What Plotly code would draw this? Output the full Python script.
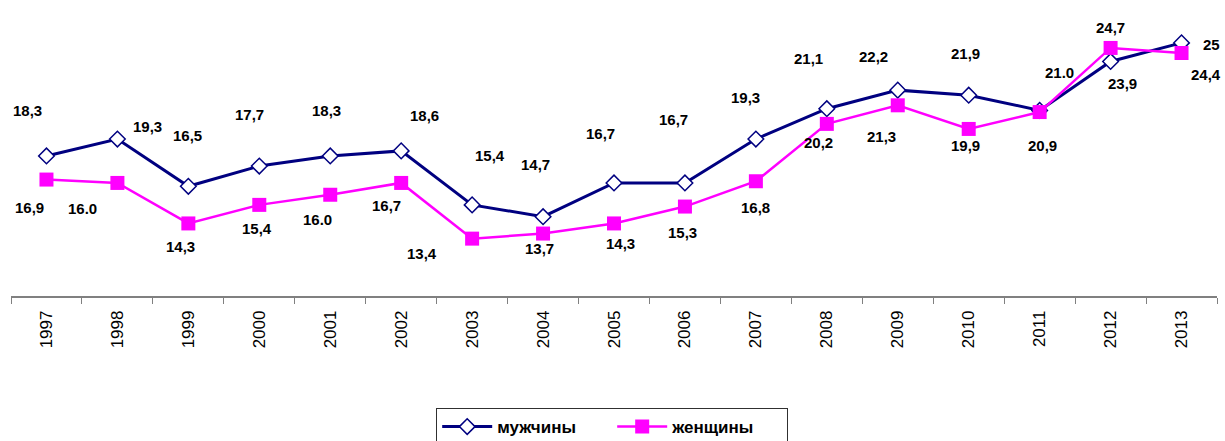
import plotly.graph_objects as go

years = [str(y) for y in range(1997, 2014)]
men = [18.3, 19.3, 16.5, 17.7, 18.3, 18.6, 15.4, 14.7, 16.7, 16.7, 19.3, 21.1, 22.2, 21.9, 21.0, 23.9, 25.0]
women = [16.9, 16.7, 14.3, 15.4, 16.0, 16.7, 13.4, 13.7, 14.3, 15.3, 16.8, 20.2, 21.3, 19.9, 20.9, 24.7, 24.4]
men_labels = ["18,3", "19,3", "16,5", "17,7", "18,3", "18,6", "15,4", "14,7", "16,7", "16,7",
              "19,3", "21,1", "22,2", "21,9", "21.0", "23,9", "25"]
women_labels = ["16,9", "16.0", "14,3", "15,4", "16.0", "16,7", "13,4", "13,7", "14,3", "15,3",
                "16,8", "20,2", "21,3", "19,9", "20,9", "24,7", "24,4"]

# label offsets in pixels (dx right, dy down)
men_off = [(-19, -45), (30, -13), (-1, -51), (-10, -52), (-4, -45), (23, -35), (18, -49), (-8, -52),
           (-14, -49), (-11, -63), (-10, -42), (-18, -50), (-24, -34), (-3, -42), (20, -38), (12, 22), (30, 2)]
women_off = [(-17, 28), (-35, 26), (-8, 23), (-2, 24), (-13, 25), (-15, 23), (-50, 15), (-4, 15),
             (6, 20), (-2, 26), (0, 26), (-8, 19), (-16, 31), (-3, 17), (3, 33), (0, -20), (24, 21)]

NAVY = "#000080"
PINK = "#FF00FF"
FONT = "Liberation Sans"

idx = list(range(len(years)))
boundaries = [i - 0.5 for i in idx] + [len(idx) - 0.5]

fig = go.Figure()
fig.add_trace(go.Scatter(
    x=idx, y=men, name="<b>мужчины</b>", mode="lines+markers",
    line=dict(color=NAVY, width=3),
    marker=dict(symbol="diamond", size=12, color="white", line=dict(color=NAVY, width=1.5)),
))
fig.add_trace(go.Scatter(
    x=idx, y=women, name="<b>женщины</b>", mode="lines+markers",
    line=dict(color=PINK, width=2.5),
    marker=dict(symbol="square", size=14, color=PINK, line=dict(width=0)),
))

for ys, labs, offs in [(men, men_labels, men_off), (women, women_labels, women_off)]:
    for i, (y, t, (dx, dy)) in enumerate(zip(ys, labs, offs)):
        fig.add_annotation(
            x=i, y=y, xref="x", yref="y", text="<b>" + t + "</b>", showarrow=False,
            xshift=dx, yshift=-dy, font=dict(family=FONT, size=15, color="black"),
        )

fig.update_layout(
    width=1225, height=441,
    font=dict(family=FONT, size=15, color="black"),
    margin=dict(l=11, r=8, t=26, b=145, autoexpand=False),
    paper_bgcolor="white", plot_bgcolor="white",
    showlegend=True,
    legend=dict(
        orientation="h", x=0.4985, xanchor="center", y=-0.415, yanchor="top",
        bordercolor="#303030", borderwidth=1, bgcolor="white",
        font=dict(family=FONT, size=17, color="black"),
        itemwidth=50, entrywidth=110,
    ),
    xaxis=dict(
        type="linear", range=[-0.5, 16.5],
        tickmode="array", tickvals=idx, ticktext=years,
        ticks="", showline=True, linecolor="#808080", linewidth=1.5,
        ticklabelstandoff=6,
        tickangle=-90, tickfont=dict(family=FONT, size=17, color="black"),
        showgrid=False, zeroline=False,
        minor=dict(tickmode="array", tickvals=boundaries, ticks="outside", ticklen=6,
                   tickcolor="#808080", tickwidth=1, showgrid=False),
    ),
    yaxis=dict(
        range=[10, 26], showticklabels=False, showgrid=False, zeroline=False, showline=False, ticks="",
    ),
)

fig.write_html("out.html", config={"displayModeBar": False},
               post_script="document.body.style.margin='0';")
